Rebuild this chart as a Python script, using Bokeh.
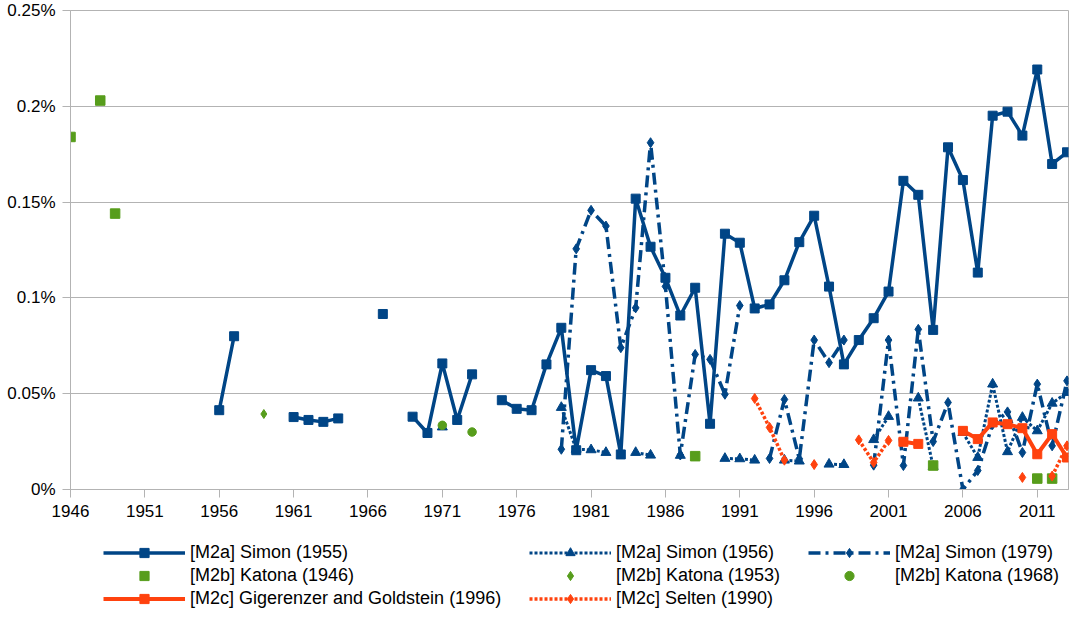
from bokeh.plotting import figure
from bokeh.layouts import column
from bokeh.models import FixedTicker, CustomJSTickFormatter, Legend, LegendItem, Range1d
from bokeh.embed import file_html
from bokeh.resources import INLINE

# ---------------- data (share of publications, in percent) ----------------
x_ticks = list(range(1946, 2012, 5))
y_ticks = [0, 0.05, 0.1, 0.15, 0.2, 0.25]

simon_1955_start = 1956
simon_1955 = [0.0414, 0.080, None, None, None, 0.0378, 0.0363, 0.0353, 0.0371, None,
              None, 0.0916, None, 0.038, 0.0295, 0.0658, 0.0363, 0.0601, None, 0.0466,
              0.0421, 0.0414, 0.0653, 0.0844, 0.0205, 0.0623, 0.0592, 0.0183, 0.1518, 0.1267,
              0.1105, 0.0908, 0.1053, 0.0343, 0.1335, 0.1288, 0.0945, 0.0966, 0.1092, 0.1291,
              0.1429, 0.1059, 0.0653, 0.078, 0.0894, 0.1033, 0.1611, 0.1538, 0.0833, 0.1786,
              0.1615, 0.1132, 0.1951, 0.1972, 0.1847, 0.2192, 0.1699, 0.176]

simon_1956_start = 1971
simon_1956 = [0.0326, None, None, None, None, None, None, None, 0.0428, 0.021,
              0.0207, 0.0193, None, 0.0193, 0.0179, None, 0.0178, None, None, 0.0162,
              0.016, 0.0153, None, 0.0153, 0.0148, None, 0.0132, 0.013, None, 0.026,
              0.0381, None, 0.0477, 0.012, None, 0.0297, 0.0167, 0.055, 0.0197, 0.0376,
              0.0306, 0.045, 0.0506]

simon_1979_start = 1979
simon_1979 = [0.021, 0.1256, 0.1457, 0.1375, 0.074, 0.0948, 0.181, 0.106, 0.018, 0.0705,
              0.0679, 0.0497, 0.096, None, 0.0162, 0.047, 0.016, 0.078, 0.0662, 0.078,
              None, 0.0127, 0.078, 0.0125, 0.0836, 0.025, 0.0454, 0.0, 0.0099, 0.034,
              0.0405, 0.0193, 0.055, 0.0228, 0.0567]

katona_1946_years = [1946, 1948, 1949, 1988, 2004, 2011, 2012]
katona_1946 = [0.184, 0.203, 0.144, 0.0174, 0.0125, 0.0057, 0.0057]

katona_1953_years = [1959]
katona_1953 = [0.0394]

katona_1968_years = [1971, 1973]
katona_1968 = [0.0335, 0.030]

gigerenzer_1996_start = 2002
gigerenzer_1996 = [0.0249, 0.0238, None, None, 0.0306, 0.0263, 0.035, 0.0341, 0.032, 0.0184,
                   0.0289, 0.0167]

selten_1990_start = 1992
selten_1990 = [0.0475, 0.0324, 0.0153, None, 0.013, None, None, 0.0259, 0.0141, 0.0256,
               None, None, None, None, None, None, None, None, 0.0063, None,
               0.007, 0.0228]

BLUE = "#004586"
GREEN = "#579d1c"
RED = "#ff420e"
GRID = "#b3b3b3"
FONT = "Liberation Sans"

# series styles: (line kwargs or None, marker kwargs)
STYLES = {
    "s55": (dict(line_color=BLUE, line_width=3.5), dict(marker="square", size=9, color=BLUE)),
    "s56": (dict(line_color=BLUE, line_width=3, line_dash="3 2"), dict(marker="triangle", size=10, color=BLUE)),
    "s79": (dict(line_color=BLUE, line_width=3.5, line_dash="12 5 3 5"), dict(marker="diamond", size=10, color=BLUE)),
    "k46": (None, dict(marker="square", size=9.5, color=GREEN)),
    "k53": (None, dict(marker="diamond", size=9, color=GREEN)),
    "k68": (None, dict(marker="circle", size=8.5, color=GREEN)),
    "g96": (dict(line_color=RED, line_width=4), dict(marker="square", size=9, color=RED)),
    "s90": (dict(line_color=RED, line_width=3.5, line_dash="3 2"), dict(marker="diamond", size=10, color=RED)),
}


def seq(start, vals):
    xs = [start + i for i in range(len(vals))]
    ys = [float("nan") if v is None else v for v in vals]
    return xs, ys


p = figure(width=1070, height=524, output_backend="svg", toolbar_location=None,
           x_range=Range1d(1946, 2013.1), y_range=Range1d(0, 0.25),
           min_border_left=70, min_border_right=2, min_border_top=10, min_border_bottom=35)
p.background_fill_color = "white"
p.border_fill_color = "white"
p.outline_line_color = GRID

p.xgrid.visible = False
p.ygrid.grid_line_color = GRID
p.ygrid.ticker = FixedTicker(ticks=y_ticks)

p.xaxis.ticker = FixedTicker(ticks=x_ticks)
p.yaxis.ticker = FixedTicker(ticks=y_ticks)
p.yaxis.formatter = CustomJSTickFormatter(code="return (Math.round(tick*100)/100) + '%';")
for ax in (p.xaxis, p.yaxis):
    ax.axis_line_color = GRID
    ax.major_tick_line_color = GRID
    ax.minor_tick_line_color = None
    ax.major_tick_out = 8
    ax.major_tick_in = 0
    ax.major_label_text_font = FONT
    ax.major_label_text_font_size = "17px"
    ax.major_label_text_color = "black"
    ax.major_label_standoff = 7


def draw(key, xs, ys):
    lk, mk = STYLES[key]
    if lk is not None:
        p.line(xs, ys, **lk)
    p.scatter(xs, ys, **mk)


draw("s55", *seq(simon_1955_start, simon_1955))
draw("s56", *seq(simon_1956_start, simon_1956))
draw("s79", *seq(simon_1979_start, simon_1979))
draw("k46", katona_1946_years, katona_1946)
draw("k53", katona_1953_years, katona_1953)
draw("k68", katona_1968_years, katona_1968)
draw("g96", *seq(gigerenzer_1996_start, gigerenzer_1996))
draw("s90", *seq(selten_1990_start, selten_1990))

# ---------------- legend (separate strip below the chart) ----------------
lg_fig = figure(width=1070, height=86, output_backend="svg", toolbar_location=None,
                x_range=Range1d(0, 1), y_range=Range1d(0, 1),
                x_axis_location=None, y_axis_location=None,
                min_border=0, min_border_left=70, min_border_right=2,
                min_border_top=0, min_border_bottom=0)
lg_fig.grid.visible = False
lg_fig.outline_line_color = None
lg_fig.background_fill_color = "white"
lg_fig.border_fill_color = "white"


def dummy(key):
    # renderers placed outside the visible range; only their legend glyphs show
    lk, mk = STYLES[key]
    rs = []
    if lk is not None:
        rs.append(lg_fig.line([5, 6], [5, 5], **lk))
    rs.append(lg_fig.scatter([5], [5], **mk))
    return rs


def make_legend(entries, loc):
    items = [LegendItem(label=lab, renderers=dummy(key)) for lab, key in entries]
    lg = Legend(items=items, location=loc, orientation="vertical",
                padding=0, margin=0, spacing=0, glyph_height=23, glyph_width=82,
                label_standoff=5, label_height=23,
                label_text_font=FONT, label_text_font_size="18px", label_text_color="black",
                border_line_color=None, background_fill_alpha=0)
    lg_fig.add_layout(lg, "center")


make_legend([("[M2a] Simon (1955)", "s55"),
             ("[M2b] Katona (1946)", "k46"),
             ("[M2c] Gigerenzer and Goldstein (1996)", "g96")], (33, 0))
make_legend([("[M2a] Simon (1956)", "s56"),
             ("[M2b] Katona (1953)", "k53"),
             ("[M2c] Selten (1990)", "s90")], (459, 0))
make_legend([("[M2a] Simon (1979)", "s79"),
             ("[M2b] Katona (1968)", "k68")], (738, 23))

layout = column(p, lg_fig, spacing=0)
open("out.html", "w").write(file_html(layout, INLINE))
